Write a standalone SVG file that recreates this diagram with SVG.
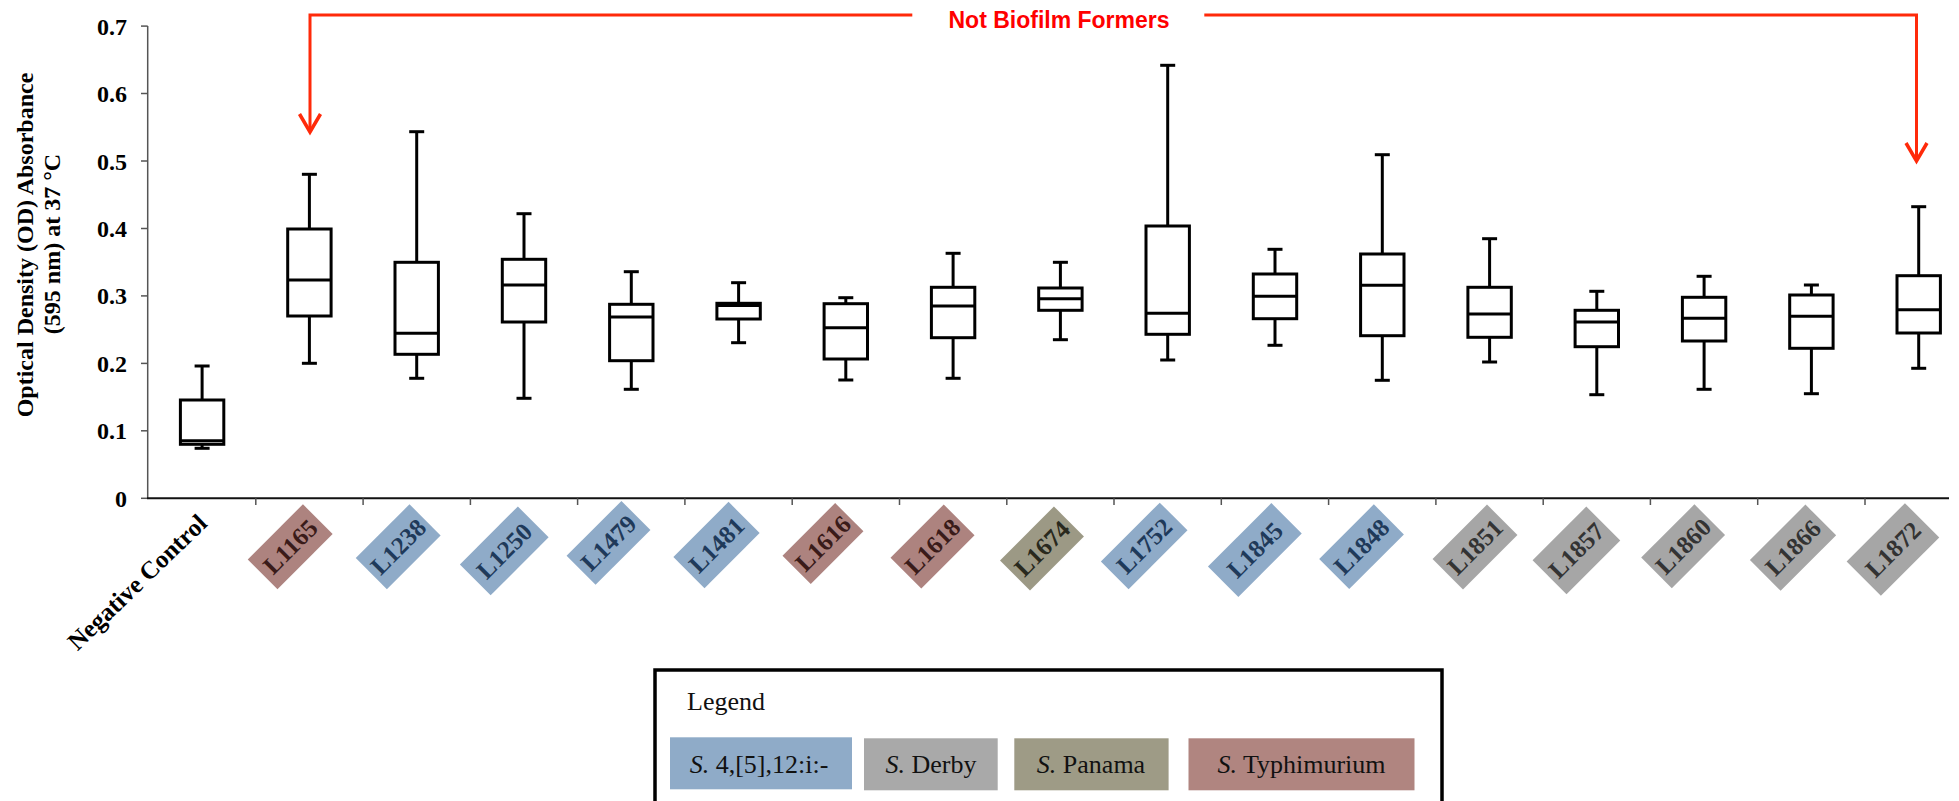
<svg xmlns="http://www.w3.org/2000/svg" width="1959" height="801" viewBox="0 0 1959 801">
  <defs>
    <style>
      .tick-label { font-family: "Liberation Serif", "Times New Roman", serif; font-weight: bold; font-size: 24px; fill: #000; text-anchor: end; }
      .axis-title { font-family: "Liberation Serif", "Times New Roman", serif; font-weight: bold; font-size: 24px; fill: #000; text-anchor: middle; }
      .cat-label { font-family: "Liberation Serif", "Times New Roman", serif; font-weight: bold; font-size: 25px; text-anchor: middle; }
      .box rect { fill: #fff; stroke: #000; stroke-width: 3; }
      .box line { stroke: #000; stroke-width: 3; }
      .blue rect { fill: #8FABC8; } .blue text { fill: #1F3A5A; }
      .rose rect { fill: #AD837F; } .rose text { fill: #3A1B19; }
      .olive rect { fill: #9C9985; } .olive text { fill: #29291D; }
      .gray rect { fill: #A6A6A6; } .gray text { fill: #333333; }
      .legend-text { font-family: "Liberation Serif", "Times New Roman", serif; font-size: 26px; fill: #111; }
      .callout { fill: none; stroke: #FF2A0A; stroke-width: 3; }
    </style>
    <marker id="chevron" markerUnits="userSpaceOnUse" orient="auto" refX="0" refY="0" markerWidth="30" markerHeight="30" overflow="visible">
      <path d="M-18,-10.5 L0,0 L-18,10.5" fill="none" stroke="#FF2A0A" stroke-width="3.5" stroke-linejoin="miter"/>
    </marker>
  </defs>
  <rect width="1959" height="801" fill="#fff"/>

  <!-- axes -->
  <g id="axes">
    <line x1="147.7" y1="26" x2="147.7" y2="498.3" stroke="#555" stroke-width="1.5"/>
    <g stroke="#555" stroke-width="1.5">
      <line x1="141" y1="26.1" x2="147.7" y2="26.1"/>
      <line x1="141" y1="93.5" x2="147.7" y2="93.5"/>
      <line x1="141" y1="161" x2="147.7" y2="161"/>
      <line x1="141" y1="228.5" x2="147.7" y2="228.5"/>
      <line x1="141" y1="295.9" x2="147.7" y2="295.9"/>
      <line x1="141" y1="363.4" x2="147.7" y2="363.4"/>
      <line x1="141" y1="430.8" x2="147.7" y2="430.8"/>
      <line x1="141" y1="498.3" x2="147.7" y2="498.3"/>
    </g>
    <g class="tick-label">
      <text x="127" y="34.6">0.7</text>
      <text x="127" y="102">0.6</text>
      <text x="127" y="169.5">0.5</text>
      <text x="127" y="237">0.4</text>
      <text x="127" y="304.4">0.3</text>
      <text x="127" y="371.9">0.2</text>
      <text x="127" y="439.3">0.1</text>
      <text x="127" y="506.8">0</text>
    </g>
    <line x1="147" y1="498.3" x2="1949" y2="498.3" stroke="#111" stroke-width="2"/>
    <g stroke="#555" stroke-width="1.5">
      <line x1="255.8" y1="498.3" x2="255.8" y2="505"/>
      <line x1="363.1" y1="498.3" x2="363.1" y2="505"/>
      <line x1="470.4" y1="498.3" x2="470.4" y2="505"/>
      <line x1="577.6" y1="498.3" x2="577.6" y2="505"/>
      <line x1="684.9" y1="498.3" x2="684.9" y2="505"/>
      <line x1="792.2" y1="498.3" x2="792.2" y2="505"/>
      <line x1="899.5" y1="498.3" x2="899.5" y2="505"/>
      <line x1="1006.8" y1="498.3" x2="1006.8" y2="505"/>
      <line x1="1114" y1="498.3" x2="1114" y2="505"/>
      <line x1="1221.3" y1="498.3" x2="1221.3" y2="505"/>
      <line x1="1328.6" y1="498.3" x2="1328.6" y2="505"/>
      <line x1="1435.9" y1="498.3" x2="1435.9" y2="505"/>
      <line x1="1543.2" y1="498.3" x2="1543.2" y2="505"/>
      <line x1="1650.4" y1="498.3" x2="1650.4" y2="505"/>
      <line x1="1757.7" y1="498.3" x2="1757.7" y2="505"/>
      <line x1="1865" y1="498.3" x2="1865" y2="505"/>
    </g>
    <text class="axis-title" transform="translate(33,245) rotate(-90)">Optical Density (OD) Absorbance</text>
    <text class="axis-title" transform="translate(60,244) rotate(-90)">(595 nm) at 37 °C</text>
  </g>

  <!-- box plots: whisker caps, boxes and medians -->
  <g id="boxes">
    <g id="box-neg" class="box">
      <line x1="202.1" y1="366" x2="202.1" y2="400"/><line x1="194.6" y1="366" x2="209.6" y2="366"/>
      <line x1="202.1" y1="444.3" x2="202.1" y2="448.3"/><line x1="194.6" y1="448.3" x2="209.6" y2="448.3"/>
      <rect x="180.4" y="400" width="43.4" height="44.3"/>
      <line x1="180.4" y1="440.7" x2="223.8" y2="440.7"/>
    </g>
    <g id="box-L1165" class="box">
      <line x1="309.4" y1="174.3" x2="309.4" y2="229"/><line x1="301.9" y1="174.3" x2="316.9" y2="174.3"/>
      <line x1="309.4" y1="316" x2="309.4" y2="363.3"/><line x1="301.9" y1="363.3" x2="316.9" y2="363.3"/>
      <rect x="287.7" y="229" width="43.4" height="87"/>
      <line x1="287.7" y1="280" x2="331.1" y2="280"/>
    </g>
    <g id="box-L1238" class="box">
      <line x1="416.7" y1="131.7" x2="416.7" y2="262.3"/><line x1="409.2" y1="131.7" x2="424.2" y2="131.7"/>
      <line x1="416.7" y1="354.3" x2="416.7" y2="378.3"/><line x1="409.2" y1="378.3" x2="424.2" y2="378.3"/>
      <rect x="395" y="262.3" width="43.4" height="92"/>
      <line x1="395" y1="333.3" x2="438.4" y2="333.3"/>
    </g>
    <g id="box-L1250" class="box">
      <line x1="524" y1="213.7" x2="524" y2="259.3"/><line x1="516.5" y1="213.7" x2="531.5" y2="213.7"/>
      <line x1="524" y1="322" x2="524" y2="398.3"/><line x1="516.5" y1="398.3" x2="531.5" y2="398.3"/>
      <rect x="502.3" y="259.3" width="43.4" height="62.7"/>
      <line x1="502.3" y1="285" x2="545.7" y2="285"/>
    </g>
    <g id="box-L1479" class="box">
      <line x1="631.3" y1="271.7" x2="631.3" y2="304.3"/><line x1="623.8" y1="271.7" x2="638.8" y2="271.7"/>
      <line x1="631.3" y1="360.7" x2="631.3" y2="389.3"/><line x1="623.8" y1="389.3" x2="638.8" y2="389.3"/>
      <rect x="609.6" y="304.3" width="43.4" height="56.4"/>
      <line x1="609.6" y1="317" x2="653" y2="317"/>
    </g>
    <g id="box-L1481" class="box">
      <line x1="738.6" y1="282.7" x2="738.6" y2="303.3"/><line x1="731.1" y1="282.7" x2="746.1" y2="282.7"/>
      <line x1="738.6" y1="319" x2="738.6" y2="342.7"/><line x1="731.1" y1="342.7" x2="746.1" y2="342.7"/>
      <rect x="716.9" y="303.3" width="43.4" height="15.7"/>
      <line x1="716.9" y1="305.5" x2="760.3" y2="305.5"/>
    </g>
    <g id="box-L1616" class="box">
      <line x1="845.8" y1="297.7" x2="845.8" y2="303.7"/><line x1="838.3" y1="297.7" x2="853.3" y2="297.7"/>
      <line x1="845.8" y1="359" x2="845.8" y2="380"/><line x1="838.3" y1="380" x2="853.3" y2="380"/>
      <rect x="824.1" y="303.7" width="43.4" height="55.3"/>
      <line x1="824.1" y1="327.7" x2="867.5" y2="327.7"/>
    </g>
    <g id="box-L1618" class="box">
      <line x1="953.1" y1="253.3" x2="953.1" y2="287.3"/><line x1="945.6" y1="253.3" x2="960.6" y2="253.3"/>
      <line x1="953.1" y1="337.7" x2="953.1" y2="378.3"/><line x1="945.6" y1="378.3" x2="960.6" y2="378.3"/>
      <rect x="931.4" y="287.3" width="43.4" height="50.4"/>
      <line x1="931.4" y1="306" x2="974.8" y2="306"/>
    </g>
    <g id="box-L1674" class="box">
      <line x1="1060.4" y1="262.3" x2="1060.4" y2="288"/><line x1="1052.9" y1="262.3" x2="1067.9" y2="262.3"/>
      <line x1="1060.4" y1="310.3" x2="1060.4" y2="339.7"/><line x1="1052.9" y1="339.7" x2="1067.9" y2="339.7"/>
      <rect x="1038.7" y="288" width="43.4" height="22.3"/>
      <line x1="1038.7" y1="298.7" x2="1082.1" y2="298.7"/>
    </g>
    <g id="box-L1752" class="box">
      <line x1="1167.7" y1="65.3" x2="1167.7" y2="226"/><line x1="1160.2" y1="65.3" x2="1175.2" y2="65.3"/>
      <line x1="1167.7" y1="334.3" x2="1167.7" y2="360"/><line x1="1160.2" y1="360" x2="1175.2" y2="360"/>
      <rect x="1146" y="226" width="43.4" height="108.3"/>
      <line x1="1146" y1="313.3" x2="1189.4" y2="313.3"/>
    </g>
    <g id="box-L1845" class="box">
      <line x1="1275" y1="249.3" x2="1275" y2="274"/><line x1="1267.5" y1="249.3" x2="1282.5" y2="249.3"/>
      <line x1="1275" y1="318.7" x2="1275" y2="345.3"/><line x1="1267.5" y1="345.3" x2="1282.5" y2="345.3"/>
      <rect x="1253.3" y="274" width="43.4" height="44.7"/>
      <line x1="1253.3" y1="296.3" x2="1296.7" y2="296.3"/>
    </g>
    <g id="box-L1848" class="box">
      <line x1="1382.3" y1="154.7" x2="1382.3" y2="254"/><line x1="1374.8" y1="154.7" x2="1389.8" y2="154.7"/>
      <line x1="1382.3" y1="335.7" x2="1382.3" y2="380.3"/><line x1="1374.8" y1="380.3" x2="1389.8" y2="380.3"/>
      <rect x="1360.6" y="254" width="43.4" height="81.7"/>
      <line x1="1360.6" y1="285.3" x2="1404" y2="285.3"/>
    </g>
    <g id="box-L1851" class="box">
      <line x1="1489.6" y1="238.7" x2="1489.6" y2="287.3"/><line x1="1482.1" y1="238.7" x2="1497.1" y2="238.7"/>
      <line x1="1489.6" y1="337.3" x2="1489.6" y2="362"/><line x1="1482.1" y1="362" x2="1497.1" y2="362"/>
      <rect x="1467.9" y="287.3" width="43.4" height="50"/>
      <line x1="1467.9" y1="314" x2="1511.3" y2="314"/>
    </g>
    <g id="box-L1857" class="box">
      <line x1="1596.8" y1="291.3" x2="1596.8" y2="310.3"/><line x1="1589.3" y1="291.3" x2="1604.3" y2="291.3"/>
      <line x1="1596.8" y1="346.7" x2="1596.8" y2="394.7"/><line x1="1589.3" y1="394.7" x2="1604.3" y2="394.7"/>
      <rect x="1575.1" y="310.3" width="43.4" height="36.4"/>
      <line x1="1575.1" y1="322" x2="1618.5" y2="322"/>
    </g>
    <g id="box-L1860" class="box">
      <line x1="1704.1" y1="276.3" x2="1704.1" y2="297.3"/><line x1="1696.6" y1="276.3" x2="1711.6" y2="276.3"/>
      <line x1="1704.1" y1="341" x2="1704.1" y2="389.3"/><line x1="1696.6" y1="389.3" x2="1711.6" y2="389.3"/>
      <rect x="1682.4" y="297.3" width="43.4" height="43.7"/>
      <line x1="1682.4" y1="318.3" x2="1725.8" y2="318.3"/>
    </g>
    <g id="box-L1866" class="box">
      <line x1="1811.4" y1="285" x2="1811.4" y2="295"/><line x1="1803.9" y1="285" x2="1818.9" y2="285"/>
      <line x1="1811.4" y1="348.3" x2="1811.4" y2="393.7"/><line x1="1803.9" y1="393.7" x2="1818.9" y2="393.7"/>
      <rect x="1789.7" y="295" width="43.4" height="53.3"/>
      <line x1="1789.7" y1="316.3" x2="1833.1" y2="316.3"/>
    </g>
    <g id="box-L1872" class="box">
      <line x1="1918.7" y1="206.7" x2="1918.7" y2="275.7"/><line x1="1911.2" y1="206.7" x2="1926.2" y2="206.7"/>
      <line x1="1918.7" y1="333" x2="1918.7" y2="368.3"/><line x1="1911.2" y1="368.3" x2="1926.2" y2="368.3"/>
      <rect x="1897" y="275.7" width="43.4" height="57.3"/>
      <line x1="1897" y1="309.7" x2="1940.4" y2="309.7"/>
    </g>
  </g>

  <!-- category labels along the x axis -->
  <g id="category-labels">
    <text class="cat-label" text-anchor="end" style="text-anchor:end" fill="#000" transform="translate(208.5,525) rotate(-44)">Negative Control</text>
    <g id="lab-L1165" class="rose" transform="translate(290.2,546.7) rotate(-45)"><rect x="-39" y="-21" width="78" height="42"/><text class="cat-label" y="8.5">L1165</text></g>
    <g id="lab-L1238" class="blue" transform="translate(398.2,546.7) rotate(-45)"><rect x="-38" y="-22" width="76" height="44"/><text class="cat-label" y="8.5">L1238</text></g>
    <g id="lab-L1250" class="blue" transform="translate(504.3,550.9) rotate(-45)"><rect x="-41" y="-21.8" width="82" height="43.5"/><text class="cat-label" y="8.5">L1250</text></g>
    <g id="lab-L1479" class="blue" transform="translate(608.5,542.9) rotate(-45)"><rect x="-38.8" y="-20.5" width="77.6" height="41"/><text class="cat-label" y="8.5">L1479</text></g>
    <g id="lab-L1481" class="blue" transform="translate(716.5,545) rotate(-45)"><rect x="-39" y="-22" width="78" height="44"/><text class="cat-label" y="8.5">L1481</text></g>
    <g id="lab-L1616" class="rose" transform="translate(823,543.5) rotate(-45)"><rect x="-37.3" y="-20" width="74.5" height="40"/><text class="cat-label" y="8.5">L1616</text></g>
    <g id="lab-L1618" class="rose" transform="translate(932.6,546.5) rotate(-45)"><rect x="-37.7" y="-21.8" width="75.3" height="43.5"/><text class="cat-label" y="8.5">L1618</text></g>
    <g id="lab-L1674" class="olive" transform="translate(1042,548.4) rotate(-45)"><rect x="-38.2" y="-21.2" width="76.3" height="42.4"/><text class="cat-label" y="8.5">L1674</text></g>
    <g id="lab-L1752" class="blue" transform="translate(1144.2,545.9) rotate(-45)"><rect x="-41.7" y="-19.6" width="83.3" height="39.2"/><text class="cat-label" y="8.5">L1752</text></g>
    <g id="lab-L1845" class="blue" transform="translate(1254.9,550) rotate(-45)"><rect x="-44.9" y="-21.5" width="89.7" height="43"/><text class="cat-label" y="8.5">L1845</text></g>
    <g id="lab-L1848" class="blue" transform="translate(1361.6,546.7) rotate(-45)"><rect x="-38.7" y="-21.3" width="77.3" height="42.5"/><text class="cat-label" y="8.5">L1848</text></g>
    <g id="lab-L1851" class="gray" transform="translate(1475,547) rotate(-45)"><rect x="-38.5" y="-21.5" width="77" height="43"/><text class="cat-label" y="8.5">L1851</text></g>
    <g id="lab-L1857" class="gray" transform="translate(1576.4,550.4) rotate(-45)"><rect x="-38" y="-24" width="76" height="48"/><text class="cat-label" y="8.5">L1857</text></g>
    <g id="lab-L1860" class="gray" transform="translate(1683.2,546.3) rotate(-45)"><rect x="-37.7" y="-21.7" width="75.3" height="43.3"/><text class="cat-label" y="8.5">L1860</text></g>
    <g id="lab-L1866" class="gray" transform="translate(1793.1,547.7) rotate(-45)"><rect x="-39.3" y="-21.8" width="78.5" height="43.5"/><text class="cat-label" y="8.5">L1866</text></g>
    <g id="lab-L1872" class="gray" transform="translate(1893,549.5) rotate(-45)"><rect x="-41.3" y="-24.3" width="82.5" height="48.5"/><text class="cat-label" y="8.5">L1872</text></g>
  </g>

  <!-- "Not Biofilm Formers" callout -->
  <g id="callout-label">
    <text x="948.5" y="28.3" font-family="'Liberation Sans', Arial, sans-serif" font-weight="bold" font-size="23" fill="#FF0000" textLength="221">Not Biofilm Formers</text>
  </g>
  <g id="connectors">
    <path class="callout" d="M912.3,15 H310 V132" marker-end="url(#chevron)"/>
    <path class="callout" d="M1204.3,15 H1916.5 V161" marker-end="url(#chevron)"/>
  </g>

  <!-- legend -->
  <g id="legend">
    <rect x="655" y="670" width="787" height="160" fill="#fff" stroke="#000" stroke-width="3.5"/>
    <text class="legend-text" x="687" y="710">Legend</text>
    <g id="legend-blue">
      <rect x="670" y="737.3" width="182" height="52" fill="#8FABC8"/>
      <text class="legend-text" x="759" y="773.3" text-anchor="middle"><tspan font-style="italic">S.</tspan> 4,[5],12:i:-</text>
    </g>
    <g id="legend-gray">
      <rect x="864" y="738.3" width="133.7" height="52" fill="#A9A9A9"/>
      <text class="legend-text" x="931" y="773.3" text-anchor="middle"><tspan font-style="italic">S.</tspan> Derby</text>
    </g>
    <g id="legend-olive">
      <rect x="1014.3" y="738.3" width="154.3" height="52" fill="#9E9B86"/>
      <text class="legend-text" x="1091" y="773.3" text-anchor="middle"><tspan font-style="italic">S.</tspan> Panama</text>
    </g>
    <g id="legend-rose">
      <rect x="1188.5" y="738.3" width="226" height="52" fill="#B08580"/>
      <text class="legend-text" x="1301.5" y="773.3" text-anchor="middle"><tspan font-style="italic">S.</tspan> Typhimurium</text>
    </g>
  </g>
</svg>
